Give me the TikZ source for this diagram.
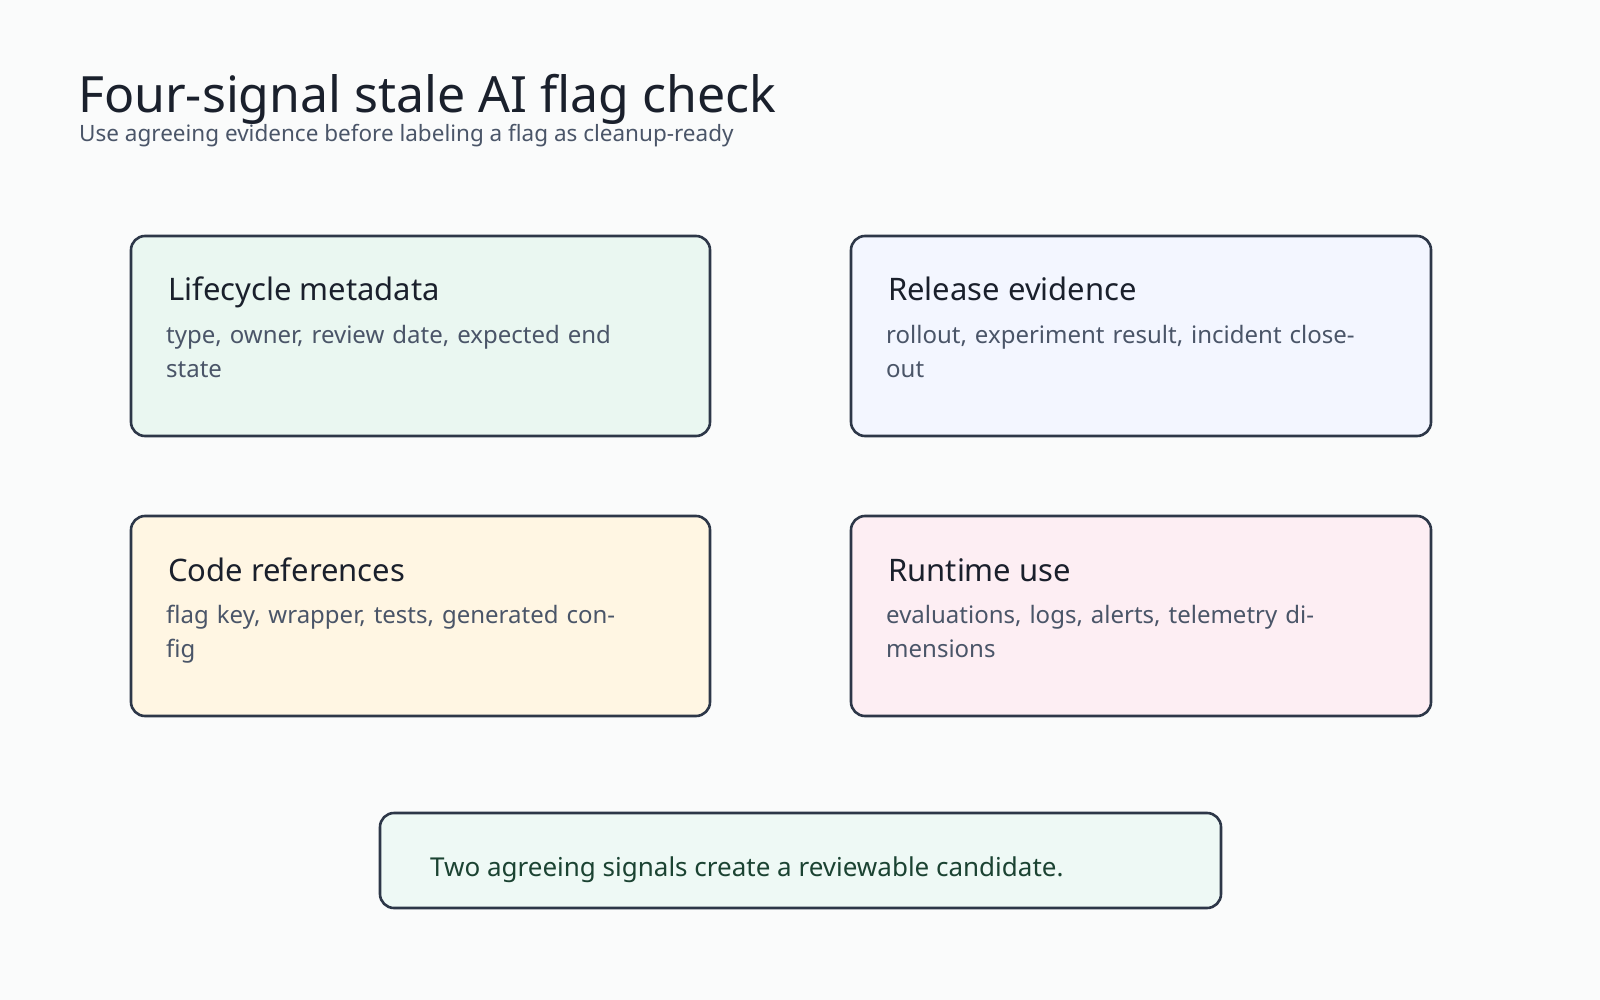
\documentclass[tikz,border=0pt]{standalone}
\usepackage{fontspec}
\setmainfont{Noto Sans}
\definecolor{bg}{HTML}{FAFBFB}
\definecolor{stroke}{HTML}{2D3748}
\definecolor{ink}{HTML}{1A202C}
\definecolor{sub}{HTML}{4A5568}
\definecolor{fA}{HTML}{EAF7F1}
\definecolor{fB}{HTML}{F3F6FF}
\definecolor{fC}{HTML}{FFF6E3}
\definecolor{fD}{HTML}{FDEEF3}
\definecolor{fE}{HTML}{EEF9F5}
\definecolor{dg}{HTML}{1B4332}
\begin{document}
\begin{tikzpicture}[x=1pt,y=-1pt,
  card/.style={draw=stroke,line width=2.6pt,rounded corners=14pt},
  ctitle/.style={anchor=base west,inner sep=0,font=\fontsize{31}{36}\selectfont\bfseries,text=ink},
  cbody/.style={anchor=north west,inner sep=0,align=left,text width=470pt,font=\fontsize{24}{34}\selectfont,text=sub}]
\fill[bg] (0,0) rectangle (1600,1000);
\useasboundingbox (0,0) rectangle (1600,1000);
\node[anchor=base west,inner sep=0,font=\fontsize{50}{56}\selectfont\bfseries,text=ink] (title) at (78,113) {Four-signal stale AI flag check};
\node[anchor=base west,inner sep=0,font=\fontsize{22.5}{26}\selectfont,text=sub] (subt) at (79,142) {Use agreeing evidence before labeling a flag as cleanup-ready};
% cards
\draw[card,fill=fA] (131,236) rectangle (710,436);
\node[ctitle] (t1) at (168,301) {Lifecycle metadata};
\node[cbody] (b1) at (166,325) {type, owner, review date, expected end state};
\draw[card,fill=fB] (851,236) rectangle (1431,436);
\node[ctitle] (t2) at (888,301) {Release evidence};
\node[cbody] (b2) at (886,325) {rollout, experiment result, incident closeout};
\draw[card,fill=fC] (131,516) rectangle (710,716);
\node[ctitle] (t3) at (168,581) {Code references};
\node[cbody] (b3) at (166,605) {flag key, wrapper, tests, generated config};
\draw[card,fill=fD] (851,516) rectangle (1431,716);
\node[ctitle] (t4) at (888,581) {Runtime use};
\node[cbody] (b4) at (886,605) {evaluations, logs, alerts, telemetry dimensions};
\draw[card,fill=fE] (380,813) rectangle (1221,908);
\node[anchor=base west,inner sep=0,font=\fontsize{26}{30}\selectfont\bfseries,text=dg] (con) at (430,876) {Two agreeing signals create a reviewable candidate.};
\end{tikzpicture}
\end{document}
